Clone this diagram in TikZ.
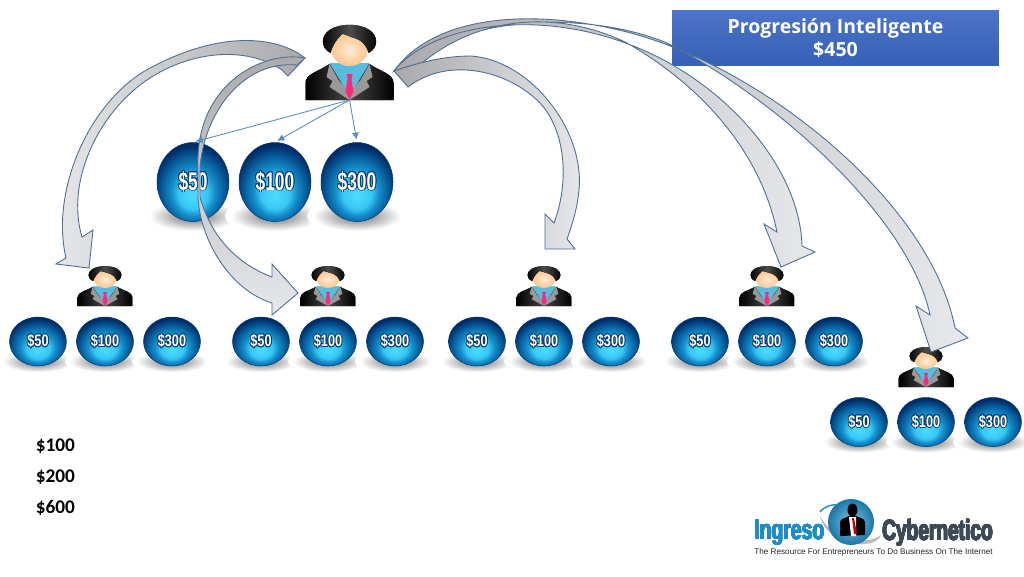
\documentclass[tikz,border=0pt]{standalone}
\usepackage{fontspec}
\usepackage{contour}
\setmainfont{Liberation Sans}
\newfontfamily\carlitofont{Carlito}
\newfontfamily\titlefont{Open Sans}
\usetikzlibrary{shapes, arrows.meta, positioning, shapes.geometric}
\definecolor{arrowline}{HTML}{4F6E96}
\definecolor{arrowdark}{HTML}{A9A9AB}
\definecolor{arrowlight}{HTML}{E6E8EB}
\definecolor{linkblue}{HTML}{5B8DBE}
\definecolor{orbrim}{HTML}{0B3C6C}
\definecolor{shirtblue}{HTML}{55BEE0}
\definecolor{ingresoblue}{HTML}{1E8CC6}
\definecolor{cyberslate}{HTML}{3D4956}
\definecolor{titletop}{HTML}{4C74C8}
\definecolor{titlebottom}{HTML}{3560B5}
\pgfdeclareradialshading{orbfill}{\pgfpoint{0bp}{-9bp}}{%
  rgb(0bp)=(.30,.86,1);rgb(10bp)=(.22,.78,.96);rgb(15bp)=(.08,.56,.80);rgb(21bp)=(.03,.38,.62);rgb(27bp)=(0,.18,.42);rgb(33bp)=(0,.10,.30);rgb(50bp)=(0,.10,.30)}
\pgfdeclareradialshading{orbshadow}{\pgfpoint{0bp}{0bp}}{%
  rgb(0bp)=(.50,.50,.50);rgb(9bp)=(.66,.66,.66);rgb(22bp)=(1,1,1);rgb(50bp)=(1,1,1)}
\contourlength{.5pt}
\tikzset{
  orbbig/.style={ellipse, shading=orbfill, draw=orbrim, line width=.3pt, inner sep=0pt, minimum width=1.44cm, minimum height=1.58cm},
  orbsmall/.style={ellipse, shading=orbfill, draw=orbrim, line width=.3pt, inner sep=0pt, minimum width=1.14cm, minimum height=.98cm},
  personbox/.style={inner sep=0pt, anchor=south},
  link/.style={draw=linkblue, line width=.5pt, -{Latex[length=4pt,width=4pt]}, shorten >=1.5pt},
  blockright/.style={draw=arrowline, line width=.5pt, left color=arrowdark, right color=arrowlight},
  blockleft/.style={draw=arrowline, line width=.5pt, left color=arrowlight, right color=arrowdark},
  blocktop/.style={draw=arrowline, line width=.5pt, top color=arrowdark, bottom color=arrowlight},
  sumtext/.style={font=\carlitofont\bfseries\fontsize{11}{13}\selectfont, anchor=west, inner sep=0pt}
}
\newcommand{\orbbiglabel}[1]{\contour{orbrim}{\textcolor{white}{\scalebox{.68}[1]{\bfseries\fontsize{14.5}{16}\selectfont #1}}}}
\newcommand{\orbsmalllabel}[1]{\contour{orbrim}{\textcolor{white}{\scalebox{.76}[1]{\bfseries\fontsize{9.5}{11}\selectfont #1}}}}
\newcommand{\person}[5]{%
  \node[personbox, minimum width=#4*1.78cm, minimum height=#5*1.52cm] (#1) at (#2,#3) {};
  \begin{scope}[shift={(#2,#3)}, xscale=#4, yscale=#5]
    \fill[left color=black, right color=black, middle color=black!72] (-44,0) -- (-44,-17) .. controls (-44,-26) and (-32,-28) .. (-20,-36)
      -- (20,-36) .. controls (32,-28) and (44,-26) .. (44,-17) -- (44,0) -- cycle;
    \fill[shirtblue] (-20,-37) -- (20,-37) -- (6,-14) -- (0,-8) -- (-6,-14) -- cycle;
    \foreach \s in {-1,1} {
      \fill[gray!80] (\s*20,-36) -- (\s*23,-23) -- (\s*17,-19) -- (\s*20,-13) -- (0,0) -- (\s*4,-12) -- (\s*11,-20) -- cycle;
    }
    \fill[red!60!magenta!85] (-3,-26) -- (3,-26) -- (2,-21) -- (4,-8) -- (0,-1) -- (-4,-8) -- (-2,-21) -- cycle;
    \shade[inner color=orange!15!white, outer color=orange!45!white] (0,-50) ellipse (18 and 16);
    \fill[left color=black, right color=black, middle color=gray!60!black] (-19,-47) .. controls (-29,-52) and (-29,-64) .. (-20,-70)
      .. controls (-10,-77) and (10,-77) .. (20,-70) .. controls (29,-64) and (29,-52) .. (19,-47)
      .. controls (17,-55) and (12,-60) .. (5,-62) .. controls (0,-63) and (-4,-66) .. (-7,-66)
      .. controls (-12,-62) and (-17,-55) .. (-19,-47) -- cycle;
  \end{scope}
}
\begin{document}
\begin{tikzpicture}[x=.02cm, y=-.02cm]
  \useasboundingbox (0,0) rectangle (1024,576);
  \fill[white] (0,0) rectangle (1024,576);

  \person{boss}{349.5}{100}{1}{1}
  \person{memberA}{105}{306}{.62}{.53}
  \person{memberB}{328}{306}{.62}{.53}
  \person{memberC}{544}{306}{.62}{.53}
  \person{memberD}{767}{306}{.62}{.53}
  \person{memberE}{926}{387}{.62}{.53}

  \foreach \x in {193,275,357} {
    \shade[shading=orbshadow] (\x,216) ellipse (50 and 17);
  }
  \foreach \x/\y in {105/341.5,328/341.5,544/341.5,767/341.5,926/422} {
    \foreach \d in {-67,0,67} {
      \shade[shading=orbshadow] (\x+\d,\y+20) ellipse (40 and 12);
    }
  }

  \node[orbbig] (bossfifty) at (193,182) {\orbbiglabel{\$50}};
  \node[orbbig] (bosshundred) at (275,182) {\orbbiglabel{\$100}};
  \node[orbbig] (bossthree) at (357,182) {\orbbiglabel{\$300}};

  \foreach \m/\x/\y in {A/105/341.5,B/328/341.5,C/544/341.5,D/767/341.5,E/926/422} {
    \node[orbsmall] (fifty\m) at (\x-67,\y) {\orbsmalllabel{\$50}};
    \node[orbsmall] (hundred\m) at (\x,\y) {\orbsmalllabel{\$100}};
    \node[orbsmall] (three\m) at (\x+67,\y) {\orbsmalllabel{\$300}};
  }

  \node[minimum width=6.54cm, minimum height=1.1cm, inner sep=0pt, top color=titletop, bottom color=titlebottom, align=center, text=white,
    font=\titlefont\bfseries\fontsize{11.1}{13.2}\selectfont] (titlebox) at (835.5,38) {Progresión Inteligente\\\$450};

  \coordinate (tailright) at (394,71);
  \coordinate (tailleft) at (305,58);

  \draw[blockright] (tailright) .. controls (430,20) and (520,5) .. (627,32) .. controls (760,66) and (930,200) .. (955,328)
    -- (968,338) -- (931,352) -- (916,306) -- (930,315)
    .. controls (910,220) and (780,100) .. (667,43) .. controls (600,15) and (480,10) .. (406,63) -- cycle;
  \draw[blockright] (tailright) .. controls (430,25) and (540,5) .. (643,50) .. controls (730,88) and (800,170) .. (802,246)
    -- (815,252) -- (781,267) -- (764,224) -- (777,232)
    .. controls (760,150) and (700,85) .. (627,43) .. controls (560,10) and (480,15) .. (422,63) -- cycle;
  \draw[blockright] (tailright) .. controls (420,62) and (445,56) .. (471,56) .. controls (530,60) and (585,130) .. (579,190)
    .. controls (577,210) and (572,225) .. (567,239)
    -- (575,249) -- (545,249) -- (545,214) -- (554,223)
    .. controls (570,180) and (565,130) .. (540,103) .. controls (510,72) and (450,55) .. (408,87) -- cycle;

  \draw[blockleft] (tailleft) .. controls (280,38) and (225,28) .. (150,68) .. controls (90,100) and (50,190) .. (66,258)
    -- (56,264) -- (89,268) -- (93,230) -- (82,237)
    .. controls (65,180) and (100,110) .. (150,78) .. controls (190,52) and (245,45) .. (282,70) -- (288,76) -- cycle;
  \draw[blocktop] (tailleft) .. controls (262,50) and (195,85) .. (198,167) -- (198,197) .. controls (200,240) and (230,290) .. (272,303)
    -- (272,315) -- (298,293) -- (272,264) -- (272,277)
    .. controls (240,265) and (212,240) .. (200,197) -- (200,167) .. controls (205,110) and (245,60) .. (297,65) -- cycle;

  \draw[link] (boss.south) -- (bossfifty.north);
  \draw[link] (boss.south) -- (bosshundred.north);
  \draw[link] (boss.south) -- (bossthree.north);

  \node[sumtext] (sumone) at (35.5,446) {\$100};
  \node[sumtext] (sumtwo) at (35.5,477) {\$200};
  \node[sumtext] (sumthree) at (35.5,508) {\$600};

  \fill[gray!55] (820,516) .. controls (826,545) and (875,552) .. (881,535) .. controls (868,546) and (832,540) .. (820,516) -- cycle;
  \shade[inner color=ingresoblue!55!white, outer color=ingresoblue!85!black] (851,522) circle (23);
  \draw[ingresoblue, line width=.8pt] (820,512) .. controls (825,506) and (832,504) .. (838,505);
  \fill[black] (840,536) -- (840,522) .. controls (841,518) and (846,518) .. (849,516) -- (856,516) .. controls (860,518) and (864,518) .. (865,522) -- (865,535) -- cycle;
  \fill[white] (849,517) -- (856,517) -- (856,536) -- (851,536) -- cycle;
  \fill[red!80!black] (852,518) -- (854,518) -- (857,534) -- (854,534) -- cycle;
  \fill[black] (852.5,510) ellipse (5 and 6.5);

  \contourlength{.25pt}
  \node[inner sep=0pt, anchor=west] (logoleft) at (754,533) {\contour{ingresoblue}{\textcolor{ingresoblue}{\scalebox{.76}[1.1]{\bfseries\fontsize{14.5}{16}\selectfont Ingreso}}}};
  \node[inner sep=0pt, anchor=west] (logoright) at (882,533) {\contour{cyberslate}{\textcolor{cyberslate}{\scalebox{.75}[1.1]{\bfseries\fontsize{14.5}{16}\selectfont Cybernetico}}}};
  \node[inner sep=0pt, anchor=west, text=black!85] (logotag) at (754,552) {\fontsize{4.65}{6}\selectfont The Resource For Entrepreneurs To Do Business On The Internet};
\end{tikzpicture}
\end{document}
